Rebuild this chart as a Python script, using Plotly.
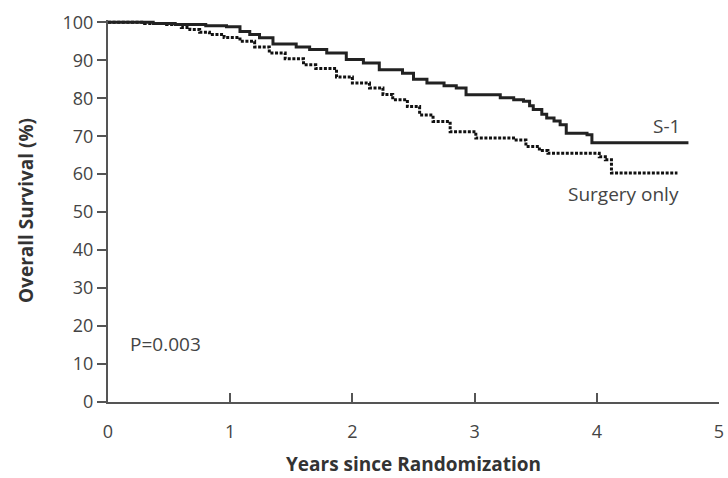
import plotly.graph_objects as go

# S-1 arm (years, overall survival %)
s1_years = [0, 0.37, 0.55, 0.80, 0.97, 1.08, 1.16, 1.24, 1.35, 1.54, 1.65, 1.79, 1.95,
            2.09, 2.22, 2.41, 2.50, 2.61, 2.75, 2.85, 2.93, 3.21, 3.32, 3.40, 3.45,
            3.48, 3.55, 3.59, 3.65, 3.70, 3.75, 3.92, 3.96, 4.75]
s1_surv = [100, 99.7, 99.4, 99.1, 98.8, 97.6, 96.8, 95.9, 94.3, 93.5, 92.8, 91.9, 90.2,
           89.3, 87.5, 86.6, 85.0, 84.0, 83.3, 82.7, 80.9, 80.1, 79.6, 79.2, 78.0,
           77.0, 75.8, 74.8, 74.0, 73.0, 70.8, 70.4, 68.3, 68.3]

# Surgery-only arm
so_years = [0, 0.30, 0.48, 0.60, 0.67, 0.75, 0.83, 0.95, 1.08, 1.20, 1.32, 1.45, 1.60,
            1.70, 1.87, 2.00, 2.14, 2.25, 2.33, 2.45, 2.55, 2.66, 2.80, 3.01, 3.34,
            3.42, 3.53, 3.60, 3.97, 4.02, 4.07, 4.12, 4.66]
so_surv = [100, 99.7, 99.4, 98.6, 98.1, 97.4, 96.8, 96.0, 95.0, 93.5, 91.9, 90.4, 88.8,
           87.8, 85.6, 84.0, 82.7, 81.0, 79.6, 77.8, 75.6, 73.9, 71.2, 69.5, 69.0,
           67.3, 66.2, 65.5, 65.5, 64.6, 63.8, 60.3, 60.3]

x_ticks = [0, 1, 2, 3, 4, 5]
y_ticks = [0, 10, 20, 30, 40, 50, 60, 70, 80, 90, 100]

FONT = "Open Sans"
TXT = "#444444"
TITLE = "#333333"
AX = "#555555"

fig = go.Figure()
fig.add_trace(go.Scatter(x=so_years, y=so_surv, mode="lines", line_shape="hv",
                         line=dict(color="#111111", width=3, dash="3px,1.6px"),
                         name="Surgery only", showlegend=False))
fig.add_trace(go.Scatter(x=s1_years, y=s1_surv, mode="lines", line_shape="hv",
                         line=dict(color="#222222", width=3),
                         name="S-1", showlegend=False))

fig.add_annotation(x=0.16, y=15.3, xref="x", yref="y", text="P=0.003", showarrow=False,
                   xanchor="left", yanchor="middle", font=dict(family=FONT, size=19, color=TXT))
fig.add_annotation(x=4.70, y=72.7, xref="x", yref="y", text="S-1", showarrow=False,
                   xanchor="right", yanchor="middle", font=dict(family=FONT, size=19, color=TXT))
fig.add_annotation(x=4.69, y=54.9, xref="x", yref="y", text="Surgery only", showarrow=False,
                   xanchor="right", yanchor="middle", font=dict(family=FONT, size=19, color=TXT))

# axis titles
fig.add_annotation(x=0, y=0.5, xref="paper", yref="paper", xshift=-82, textangle=-90,
                   text="<b>Overall Survival (%)</b>", showarrow=False,
                   xanchor="center", yanchor="middle",
                   font=dict(family=FONT, size=19, color=TITLE))
fig.add_annotation(x=0.5, y=0, xref="paper", yref="paper", yshift=-62,
                   text="<b>Years since Randomization</b>", showarrow=False,
                   xanchor="center", yanchor="middle",
                   font=dict(family=FONT, size=19, color=TITLE))

fig.update_layout(
    width=728, height=478,
    margin=dict(l=108, r=9, t=20, b=76, autoexpand=False),
    paper_bgcolor="white", plot_bgcolor="white",
    font=dict(family=FONT, size=18, color=TXT),
    hovermode=False,
)
fig.update_xaxes(range=[0, 5], tickvals=x_ticks, ticktext=[str(v) for v in x_ticks],
                 showgrid=False, zeroline=False, showline=True, linecolor=AX, linewidth=2,
                 ticks="inside", ticklen=9, tickwidth=2, tickcolor=AX,
                 ticklabelstandoff=12, automargin=False,
                 tickfont=dict(family=FONT, size=18, color=TXT))
fig.update_yaxes(range=[0, 100.6], tickvals=y_ticks, ticktext=[str(v) for v in y_ticks],
                 showgrid=False, zeroline=False, showline=True, linecolor=AX, linewidth=2,
                 ticks="outside", ticklen=9, tickwidth=2, tickcolor=AX,
                 automargin=False,
                 tickfont=dict(family=FONT, size=18, color=TXT))

# remove the browser's default 8px body margin so the 728x478 figure fills the window
fig.write_html("out.html", config={"displayModeBar": False},
               post_script="document.body.style.margin='0';document.body.style.overflow='hidden';")
